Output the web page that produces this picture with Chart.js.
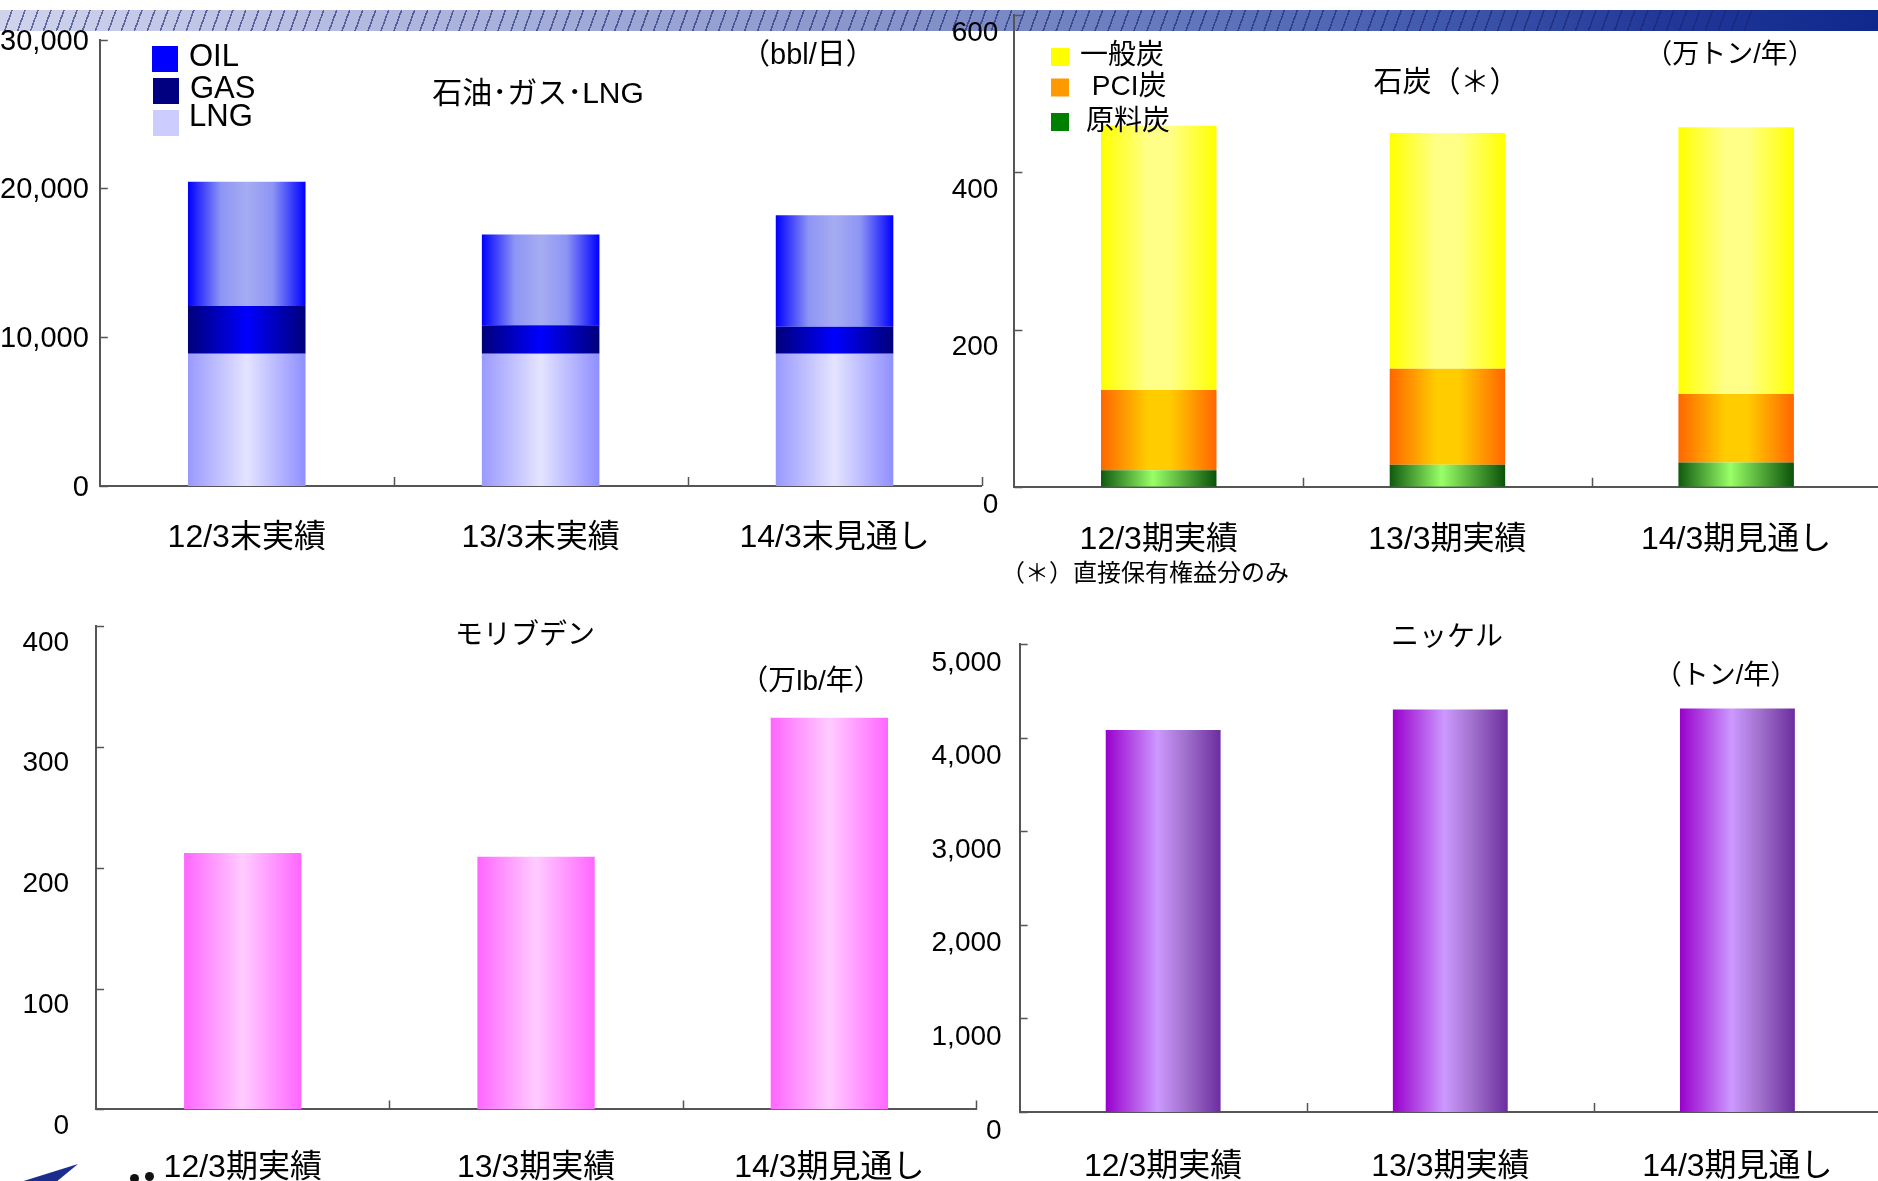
<!DOCTYPE html>
<html><head><meta charset="utf-8">
<script src="https://cdn.jsdelivr.net/npm/chart.js@4.4.1/dist/chart.umd.min.js"></script>
<style>
html,body{margin:0;padding:0;background:#fff;width:1878px;height:1181px;overflow:hidden;position:relative;}
canvas.c{position:absolute;left:-100px;top:-100px;}
#band{position:absolute;left:0;top:10px;width:1878px;height:21px;background:linear-gradient(to right,#cfd3ec 0%,#aab2dc 25%,#8290c8 50%,#4d65b3 72%,#22399a 88%,#10288c 100%);}
#hatch{position:absolute;left:0;top:10px;width:1755px;height:21px;background:repeating-linear-gradient(110deg, rgba(0,0,0,0) 0px, rgba(0,0,0,0) 10.6px, rgba(25,35,110,0.6) 10.6px, rgba(25,35,110,0.6) 12.2px);}
.t{position:absolute;font-family:"Liberation Sans","Noto Sans CJK JP",sans-serif;color:#000;white-space:nowrap;transform:translate(-50%,-50%);line-height:1;}
.fn{position:absolute;font-family:"Noto Sans CJK JP",sans-serif;color:#000;white-space:nowrap;line-height:1;}
#logo{position:absolute;left:14px;top:1164px;width:64px;height:20px;background:#1a2d8f;clip-path:polygon(0% 100%,100% 0%,62% 100%);}
.dot{position:absolute;width:9px;height:9px;border-radius:50%;background:#111;}
</style></head><body>
<div id="band"></div><div id="hatch"></div>
<canvas class="c" id="c1" width="2100" height="1400"></canvas>
<canvas class="c" id="c2" width="2100" height="1400"></canvas>
<canvas class="c" id="c3" width="2100" height="1400"></canvas>
<canvas class="c" id="c4" width="2100" height="1400"></canvas>
<div class="t" style="left:538px;top:93px;font-size:30px;">石油･ガス･LNG</div>
<div class="t" style="left:808px;top:54px;font-size:29px;">（bbl/日）</div>
<div class="t" style="left:1446px;top:82px;font-size:29px;">石炭（＊）</div>
<div class="t" style="left:1730px;top:54px;font-size:27px;">（万トン/年）</div>
<div class="fn" style="left:1001px;top:559px;font-size:24px;">（＊）直接保有権益分のみ</div>
<div class="t" style="left:525px;top:635px;font-size:28px;">モリブデン</div>
<div class="t" style="left:811px;top:681px;font-size:28px;">（万lb/年）</div>
<div class="t" style="left:1447px;top:637px;font-size:28px;">ニッケル</div>
<div class="t" style="left:1726px;top:675px;font-size:27px;">（トン/年）</div>
<div id="logo"></div>
<div class="dot" style="left:130px;top:1174px;"></div><div class="dot" style="left:145px;top:1172px;"></div>
<script>
// ---------- data ----------
const categoriesOilGas = ['12/3末実績', '13/3末実績', '14/3末見通し'];
const categoriesPeriod = ['12/3期実績', '13/3期実績', '14/3期見通し'];
const oil = [8350, 6100, 7500];
const gas = [3200, 1900, 1800];
const lng = [8900, 8900, 8900];
const coalSteam = [336, 300, 339];   // 一般炭
const coalPCI = [102, 122, 87];      // PCI炭
const coalCoking = [21, 28, 31];     // 原料炭
const molybdenum = [212, 209, 324];
const nickel = [4080, 4300, 4310];
const legendOilGas = ['OIL', 'GAS', 'LNG'];
const legendCoal = ['一般炭', 'PCI炭', '原料炭'];

// ---------- styles ----------
const FONT = '"Liberation Sans","Noto Sans CJK JP",sans-serif';
Chart.defaults.font.family = FONT;
Chart.defaults.color = '#000';
Chart.defaults.animation = false;
const OFF = 100, CW = 2100, CH = 1400, YW = 120, XH = 100;
const CAT_PCT = 0.8, BAR_PCT = 0.5;
const AXIS = '#555';

const stopsOil = [[0,'#0000ff'],[0.28,'#8d95f4'],[0.5,'#a6acf2'],[0.72,'#8d95f4'],[1,'#0000ff']];
const stopsGas = [[0,'#00007a'],[0.5,'#0000ff'],[1,'#00007a']];
const stopsLng = [[0,'#9999ff'],[0.5,'#e4e4ff'],[1,'#8f8fff']];
const stopsSteam = [[0,'#ffff00'],[0.4,'#ffff88'],[0.6,'#ffff88'],[1,'#ffff00']];
const stopsPCI = [[0,'#ff6600'],[0.4,'#ffcc00'],[0.6,'#ffcc00'],[1,'#ff6600']];
const stopsCoking = [[0,'#0f5a0f'],[0.45,'#99ff66'],[1,'#0a520a']];
const stopsMoly = [[0,'#ff66ff'],[0.5,'#ffccff'],[1,'#ff66ff']];
const stopsNickel = [[0,'#9900cc'],[0.45,'#cc99ff'],[0.7,'#a070cc'],[1,'#6c2d9e']];

function barGradient(stops) {
  return function (context) {
    const chart = context.chart;
    if (!chart.chartArea || context.dataIndex === undefined) return stops[Math.floor(stops.length / 2)][1];
    const xs = chart.scales.x;
    const cx = xs.getPixelForValue(context.dataIndex);
    const w = (xs.width / xs.getLabels().length) * CAT_PCT * BAR_PCT;
    const g = chart.ctx.createLinearGradient(cx - w / 2, 0, cx + w / 2, 0);
    stops.forEach(s => g.addColorStop(s[0], s[1]));
    return g;
  };
}

function pad(L, T, R, B) {
  return { left: L + OFF - YW, top: T + OFF, right: CW - OFF - R, bottom: CH - OFF - B - XH };
}

const inwardTicks = {
  id: 'inwardTicks',
  afterDraw(chart) {
    const { ctx, chartArea: a, scales: { x, y } } = chart;
    ctx.save();
    ctx.strokeStyle = AXIS; ctx.lineWidth = 1.5;
    ctx.beginPath();
    y.ticks.forEach(t => {
      const py = Math.round(y.getPixelForValue(t.value)) + 0.5;
      ctx.moveTo(a.left, py); ctx.lineTo(a.left + 8, py);
    });
    const n = x.getLabels().length;
    for (let i = 1; i <= n; i++) {
      const px = Math.round(i < n ? (x.getPixelForValue(i - 1) + x.getPixelForValue(i)) / 2 : a.right) + 0.5;
      ctx.moveTo(px, a.bottom); ctx.lineTo(px, a.bottom - 9);
    }
    ctx.stroke();
    ctx.restore();
  }
};

const boxLegend = {
  id: 'boxLegend',
  afterDraw(chart, args, o) {
    if (!o || !o.items) return;
    const ctx = chart.ctx;
    ctx.save();
    ctx.font = o.size + 'px ' + FONT;
    ctx.textBaseline = 'middle';
    o.items.forEach(it => {
      ctx.fillStyle = it.color;
      ctx.fillRect(it.bx + OFF, it.by + OFF, o.box, o.box);
      ctx.fillStyle = '#000';
      ctx.fillText(it.label, it.tx + OFF, it.ty + OFF);
    });
    ctx.restore();
  }
};

function scalesCfg(stacked, max, step, ySize, yPad, yOff, xPad) {
  return {
    x: {
      stacked: stacked,
      grid: { display: false },
      border: { display: true, color: AXIS, width: 2 },
      ticks: { font: { size: 32 }, padding: xPad, maxRotation: 0, autoSkip: false },
      afterFit: s => { s.height = XH; }
    },
    y: {
      stacked: stacked,
      min: 0, max: max,
      grid: { display: false },
      border: { display: true, color: AXIS, width: 2 },
      ticks: { stepSize: step, font: { size: ySize }, padding: yPad, labelOffset: yOff,
               callback: v => Number(v).toLocaleString('en-US') },
      afterFit: s => { s.width = YW; }
    }
  };
}

function ds(label, data, stops) {
  return { label: label, data: data, backgroundColor: barGradient(stops), borderWidth: 0,
           categoryPercentage: CAT_PCT, barPercentage: BAR_PCT };
}

// Chart 1: oil / gas / LNG
new Chart(document.getElementById('c1'), {
  type: 'bar',
  data: { labels: categoriesOilGas, datasets: [ds('LNG', lng, stopsLng), ds('GAS', gas, stopsGas), ds('OIL', oil, stopsOil)] },
  options: {
    responsive: false, maintainAspectRatio: false,
    layout: { padding: pad(99.8, 39.6, 981.5, 486.1) },
    plugins: { legend: { display: false }, tooltip: { enabled: false },
      boxLegend: { size: 31, box: 26, items: [
        { label: legendOilGas[0], color: '#0000ff', bx: 152, by: 46, tx: 189, ty: 57 },
        { label: legendOilGas[1], color: '#000080', bx: 153, by: 78, tx: 190, ty: 89 },
        { label: legendOilGas[2], color: '#ccccff', bx: 153, by: 110, tx: 189, ty: 117 } ] } },
    scales: scalesCfg(true, 30000, 10000, 29, 3, 2, 25)
  },
  plugins: [inwardTicks, boxLegend]
});

// Chart 2: coal
new Chart(document.getElementById('c2'), {
  type: 'bar',
  data: { labels: categoriesPeriod, datasets: [ds('原料炭', coalCoking, stopsCoking), ds('PCI炭', coalPCI, stopsPCI), ds('一般炭', coalSteam, stopsSteam)] },
  options: {
    responsive: false, maintainAspectRatio: false,
    layout: { padding: pad(1014.4, 14.9, 1880.5, 486.8) },
    plugins: { legend: { display: false }, tooltip: { enabled: false },
      boxLegend: { size: 28, box: 18, items: [
        { label: legendCoal[0], color: '#ffff00', bx: 1051, by: 48, tx: 1080, ty: 56 },
        { label: ' ' + legendCoal[1], color: '#ff9900', bx: 1051, by: 78.5, tx: 1084, ty: 87 },
        { label: legendCoal[2], color: '#008000', bx: 1051, by: 113, tx: 1086, ty: 122 } ] } },
    scales: scalesCfg(true, 600, 200, 28, 8, 18, 26)
  },
  plugins: [inwardTicks, boxLegend]
});

// Chart 3: molybdenum
new Chart(document.getElementById('c3'), {
  type: 'bar',
  data: { labels: categoriesPeriod, datasets: [ds('モリブデン', molybdenum, stopsMoly)] },
  options: {
    responsive: false, maintainAspectRatio: false,
    layout: { padding: pad(96.1, 625.8, 976, 1109.4) },
    plugins: { legend: { display: false }, tooltip: { enabled: false } },
    scales: scalesCfg(false, 400, 100, 28, 19, 17, 32)
  },
  plugins: [inwardTicks]
});

// Chart 4: nickel
new Chart(document.getElementById('c4'), {
  type: 'bar',
  data: { labels: categoriesPeriod, datasets: [ds('ニッケル', nickel, stopsNickel)] },
  options: {
    responsive: false, maintainAspectRatio: false,
    layout: { padding: pad(1019.6, 643.9, 1881, 1111.9) },
    plugins: { legend: { display: false }, tooltip: { enabled: false } },
    scales: scalesCfg(false, 5000, 1000, 28, 10, 19, 28)
  },
  plugins: [inwardTicks]
});
</script>
</body></html>
